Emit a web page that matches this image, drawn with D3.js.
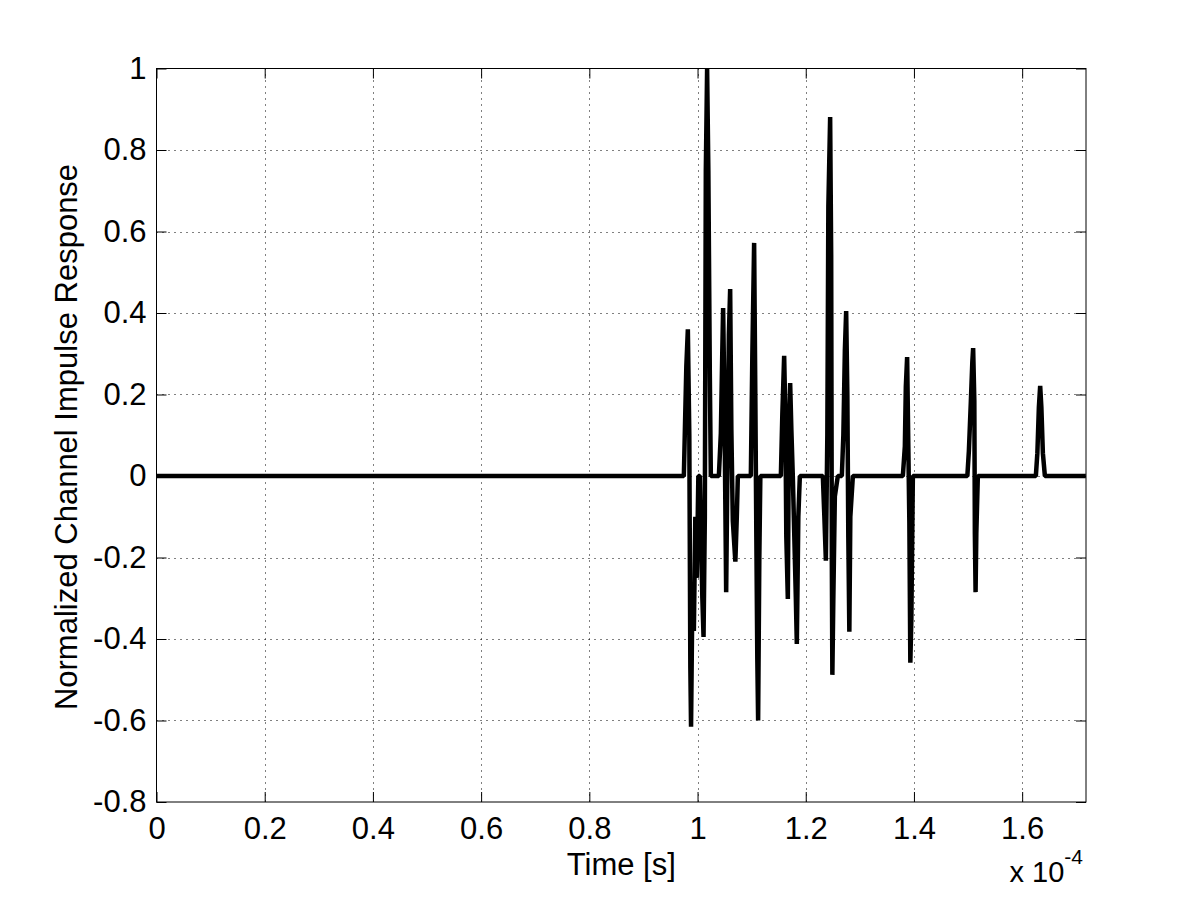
<!DOCTYPE html>
<html>
<head>
<meta charset="utf-8">
<script src="https://cdn.jsdelivr.net/npm/d3@7"></script>
<style>
  body { margin: 0; background: #fff; }
  text { font-family: "Liberation Sans", Arial, Helvetica, sans-serif; }
</style>
</head>
<body>
<svg id="chart" width="1200" height="901"></svg>
<script>
// time axis in units of 1e-4 s
const timeSamples = [
    0,
    0.9747, 0.9793, 0.9821, 0.9848, 0.9867, 0.9880, 0.9904, 0.9932, 0.9959, 0.9987, 1.0015,
    1.0043, 1.0089, 1.0111, 1.0135, 1.0153, 1.0177, 1.0200, 1.0227, 1.0246,
    1.0394, 1.0431, 1.0458, 1.0473, 1.0495, 1.0514, 1.0529, 1.0551, 1.0579, 1.0603, 1.0625, 1.0652, 1.0699, 1.0726, 1.0745,
    1.0985, 1.1013, 1.1046, 1.1068, 1.1087, 1.1105, 1.1120, 1.1142, 1.1161,
    1.1540, 1.1567, 1.1601, 1.1623, 1.1641, 1.1669, 1.1688, 1.1712, 1.1734, 1.1761, 1.1789, 1.1817, 1.1835, 1.1863, 1.1891,
    1.2316, 1.2344, 1.2372, 1.2399, 1.2418, 1.2451, 1.2470, 1.2482, 1.2492, 1.2510, 1.2538, 1.2593,
    1.2667, 1.2695, 1.2723, 1.2747, 1.2769, 1.2787, 1.2806, 1.2824, 1.2871,
    1.3795, 1.3832, 1.3850, 1.3874, 1.3896, 1.3915, 1.3933, 1.3952, 1.3980,
    1.4987, 1.5015, 1.5052, 1.5079, 1.5094, 1.5116, 1.5126, 1.5139, 1.5153, 1.5181,
    1.6253, 1.6281, 1.6309, 1.6333, 1.6355, 1.6383, 1.6420,
    1.7177
]

const responseValues = [
    0,
    0, 0.27, 0.36, 0.1, -0.47, -0.615, -0.3, -0.38, -0.1, -0.25, 0,
    0, -0.3, -0.395, -0.1, 0.75, 1.0, 0.75, 0.25, 0,
    0, 0.105, 0.31, 0.412, 0.2, -0.07, -0.285, 0, 0.346, 0.459, 0.115, -0.11, -0.21, -0.1, 0,
    0, 0.297, 0.572, 0.2, -0.15, -0.45, -0.6, -0.2, 0,
    0, 0.15, 0.295, 0.15, -0.15, -0.302, 0.1, 0.228, 0.115, 0, -0.15, -0.3, -0.412, -0.1, 0,
    0, -0.1, -0.208, 0.1, 0.663, 0.881, 0.54, -0.2, -0.488, -0.3, -0.05, 0,
    0, 0.1, 0.307, 0.405, 0.2, -0.15, -0.382, -0.1, 0,
    0, 0.073, 0.22, 0.292, 0.073, -0.113, -0.458, -0.35, 0,
    0, 0.061, 0.184, 0.28, 0.314, 0.184, -0.143, -0.285, -0.14, 0,
    0, 0.056, 0.169, 0.221, 0.169, 0.056, 0,
    0
]

const xTicks = [0, 0.2, 0.4, 0.6, 0.8, 1, 1.2, 1.4, 1.6]
const yTicks = [-0.8, -0.6, -0.4, -0.2, 0, 0.2, 0.4, 0.6, 0.8, 1]

const plotLeft = 156.5, plotRight = 1086, plotTop = 68.5, plotBottom = 802
const svg = d3.select("#chart")

var x = d3.scaleLinear().domain([0, 1.718]).range([plotLeft, plotRight])
var y = d3.scaleLinear().domain([-0.8, 1]).range([plotBottom, plotTop])

// dotted grid
svg.append('g')
    .selectAll('line')
    .data(xTicks.slice(1))
    .enter()
    .append('line')
        .attr('x1', d => Math.round(x(d)) + 0.5)
        .attr('x2', d => Math.round(x(d)) + 0.5)
        .attr('y1', plotTop)
        .attr('y2', plotBottom)
        .attr('stroke', 'black')
        .attr('stroke-dasharray', '1,5')

svg.append('g')
    .selectAll('line')
    .data(yTicks.slice(1, -1))
    .enter()
    .append('line')
        .attr('x1', plotLeft)
        .attr('x2', plotRight)
        .attr('y1', d => Math.round(y(d)) + 0.5)
        .attr('y2', d => Math.round(y(d)) + 0.5)
        .attr('stroke', 'black')
        .attr('stroke-dasharray', '1,5')

// axes with inward ticks
const fmt = d => String(d)
svg.append('g')
    .attr('transform', `translate(0, ${plotBottom})`)
    .call(d3.axisBottom(x).tickValues(xTicks).tickFormat(fmt).tickSize(-10).tickPadding(15))
    .call(g => g.select('.domain').remove())
svg.append('g')
    .attr('transform', `translate(0, ${plotTop})`)
    .call(d3.axisTop(x).tickValues(xTicks).tickFormat('').tickSize(-10))
    .call(g => g.select('.domain').remove())
svg.append('g')
    .attr('transform', `translate(${plotLeft}, 0)`)
    .call(d3.axisLeft(y).tickValues(yTicks).tickFormat(fmt).tickSize(-10).tickPadding(10))
    .call(g => g.select('.domain').remove())
svg.append('g')
    .attr('transform', `translate(${plotRight}, 0)`)
    .call(d3.axisRight(y).tickValues(yTicks).tickFormat('').tickSize(-10))
    .call(g => g.select('.domain').remove())

svg.selectAll('.tick text')
    .attr('font-size', 31)
    .attr('font-family', '"Liberation Sans", Arial, Helvetica, sans-serif')
    .attr('fill', 'black')
svg.selectAll('.tick line').attr('stroke', 'black')

// box
svg.append('rect')
    .attr('x', plotLeft)
    .attr('y', plotTop)
    .attr('width', plotRight - plotLeft)
    .attr('height', plotBottom - plotTop)
    .attr('fill', 'none')
    .attr('stroke', 'black')

// impulse response
svg.append('clipPath')
    .attr('id', 'plotClip')
    .append('rect')
        .attr('x', plotLeft)
        .attr('y', plotTop)
        .attr('width', plotRight - plotLeft)
        .attr('height', plotBottom - plotTop)

var line = d3.line()
    .x((d, i) => x(timeSamples[i]))
    .y(d => y(d))

svg.append('path')
    .datum(responseValues)
    .attr('d', line)
    .attr('clip-path', 'url(#plotClip)')
    .attr('fill', 'none')
    .attr('stroke', 'black')
    .attr('stroke-width', 4.5)
    .attr('stroke-linejoin', 'bevel')

// labels
svg.append('text')
    .attr('x', (plotLeft + plotRight) / 2)
    .attr('y', 875)
    .attr('text-anchor', 'middle')
    .attr('font-size', 31)
    .text('Time [s]')

svg.append('text')
    .attr('transform', 'translate(77, 437) rotate(-90)')
    .attr('text-anchor', 'middle')
    .attr('font-size', 31)
    .text('Normalized Channel Impulse Response')

var expo = svg.append('text')
    .attr('x', 1083)
    .attr('y', 882)
    .attr('text-anchor', 'end')
    .attr('font-size', 29)
expo.append('tspan').text('x 10')
expo.append('tspan')
    .attr('dy', -18)
    .attr('font-size', 21)
    .text('-4')
</script>
</body>
</html>
